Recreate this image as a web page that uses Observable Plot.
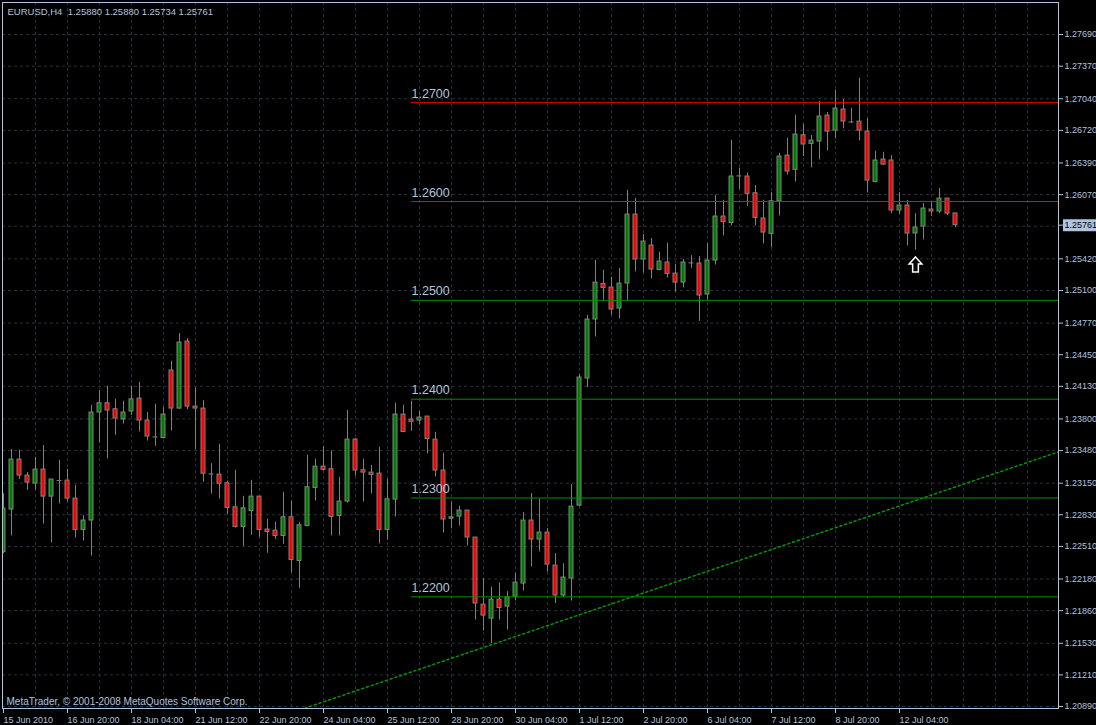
<!DOCTYPE html>
<html><head><meta charset="utf-8">
<script src="https://cdn.jsdelivr.net/npm/d3@7"></script>
<script src="https://cdn.jsdelivr.net/npm/@observablehq/plot@0.6"></script>
<style>
html,body{margin:0;padding:0;background:#000;overflow:hidden;}
#chart svg{display:block;}
</style></head><body><div id="chart"></div>
<script>
const titleText = "EURUSD,H4\u00a0 1.25880 1.25880 1.25734 1.25761";
const copyrightText = "MetaTrader, \u00a9 2001-2008 MetaQuotes Software Corp.";

const opens = [1.22454,1.22883,1.23389,1.23227,1.23146,1.23288,1.23014,1.23176,1.23176,1.22994,
1.22676,1.22772,1.23865,1.23959,1.23898,1.23794,1.23875,1.24006,1.23784,1.23618,
1.23607,1.24290,1.23905,1.24583,1.23925,1.23905,1.23243,1.23237,1.23149,1.22906,
1.22707,1.22869,1.23014,1.22681,1.22670,1.22616,1.22805,1.22363,1.22717,1.23102,
1.23318,1.23291,1.22818,1.22964,1.23591,1.23281,1.23257,1.23247,1.22676,1.22984,
1.23844,1.23794,1.23784,1.23824,1.23591,1.23278,1.22790,1.22812,1.22873,1.22600,
1.21921,1.21780,1.21972,1.21901,1.22002,1.22134,1.22772,1.22579,1.22650,1.22316,
1.22013,1.22185,1.22923,1.24209,1.24806,1.25166,1.25130,1.24917,1.25170,1.25868,
1.25413,1.25555,1.25308,1.25383,1.25271,1.25180,1.25379,1.25373,1.25059,1.25403,
1.25848,1.25783,1.26259,1.26253,1.26084,1.25828,1.25672,1.26003,1.26465,1.26320,
1.26671,1.26583,1.26607,1.26870,1.26718,1.26931,1.26805,1.26809,1.26708,1.26198,
1.26425,1.26415,1.25909,1.25959,1.25676,1.25747,1.25919,1.25899,1.26030,1.25880];

const highs = [1.23045,1.23490,1.23483,1.23257,1.23412,1.23531,1.23187,1.23382,1.23291,1.23129,
1.22822,1.23938,1.24090,1.24131,1.23999,1.23979,1.24131,1.24171,1.23865,1.23949,
1.23915,1.24384,1.24664,1.24613,1.24110,1.23986,1.23348,1.23544,1.23172,1.23281,
1.23017,1.23179,1.23014,1.22785,1.22754,1.23058,1.22970,1.22754,1.23432,1.23392,
1.23523,1.23476,1.23210,1.23885,1.23604,1.23392,1.23331,1.23513,1.23190,1.23959,
1.23938,1.23979,1.23878,1.23824,1.23665,1.23453,1.22957,1.22916,1.22873,1.22600,
1.22185,1.22097,1.22140,1.22053,1.22238,1.22853,1.23045,1.22987,1.22691,1.22438,
1.22336,1.23136,1.24252,1.24849,1.25406,1.25305,1.25234,1.25322,1.26114,1.26030,
1.25666,1.25625,1.25487,1.25578,1.25365,1.25413,1.25453,1.25443,1.25575,1.26064,
1.26013,1.26620,1.26337,1.26286,1.26162,1.26013,1.26094,1.26489,1.26640,1.26873,
1.26782,1.26668,1.27015,1.26901,1.27126,1.27032,1.26944,1.27248,1.26840,1.26509,
1.26499,1.26465,1.26091,1.26010,1.25878,1.25980,1.25993,1.26131,1.26030,1.25880];

const lows = [1.22438,1.22616,1.23187,1.23078,1.23078,1.22737,1.22545,1.22940,1.22960,1.22595,
1.22565,1.22413,1.23557,1.23395,1.23635,1.23749,1.23834,1.23668,1.23577,1.23523,
1.23597,1.23678,1.23895,1.23895,1.23486,1.23159,1.23041,1.22990,1.22835,1.22697,
1.22511,1.22623,1.22603,1.22441,1.22582,1.22532,1.22245,1.22086,1.22717,1.22970,
1.23274,1.22616,1.22616,1.22950,1.23220,1.22960,1.23041,1.22535,1.22572,1.22808,
1.23668,1.23675,1.23739,1.23446,1.23213,1.22646,1.22687,1.22717,1.22515,1.21766,
1.21654,1.21527,1.21766,1.21664,1.21958,1.22059,1.22302,1.22454,1.22251,1.21932,
1.21992,1.21958,1.22913,1.24118,1.24630,1.25001,1.24849,1.24812,1.25001,1.25287,
1.25277,1.25217,1.25298,1.25227,1.25085,1.25126,1.25325,1.24788,1.25001,1.25358,
1.25652,1.25753,1.26121,1.25952,1.25753,1.25571,1.25530,1.25854,1.26269,1.26198,
1.26455,1.26340,1.26421,1.26512,1.26633,1.26735,1.26789,1.26613,1.26087,1.26188,
1.26364,1.25878,1.25868,1.25551,1.25507,1.25611,1.25851,1.25878,1.25858,1.25734];

const closes = [1.22893,1.23389,1.23227,1.23156,1.23288,1.23014,1.23187,1.23176,1.22994,1.22676,
1.22772,1.23865,1.23959,1.23885,1.23804,1.23865,1.23999,1.23784,1.23622,1.23618,
1.23844,1.23905,1.24573,1.23925,1.23905,1.23245,1.23243,1.23144,1.22899,1.22707,
1.22896,1.23014,1.22676,1.22656,1.22616,1.22805,1.22373,1.22724,1.23109,1.23318,
1.23284,1.22808,1.22964,1.23591,1.23278,1.23257,1.23233,1.22676,1.22987,1.23844,
1.23668,1.23771,1.23814,1.23597,1.23278,1.22782,1.22805,1.22873,1.22600,1.21932,
1.21810,1.21972,1.21887,1.21995,1.22144,1.22772,1.22579,1.22650,1.22326,1.22013,
1.22195,1.22913,1.24219,1.24806,1.25180,1.25126,1.24907,1.25170,1.25868,1.25413,
1.25595,1.25312,1.25393,1.25267,1.25180,1.25383,1.25379,1.25049,1.25403,1.25848,
1.25793,1.26253,1.26259,1.26077,1.25834,1.25686,1.26003,1.26455,1.26303,1.26678,
1.26577,1.26617,1.26860,1.26708,1.26941,1.26809,1.26805,1.26718,1.26212,1.26415,
1.26374,1.25909,1.25959,1.25676,1.25737,1.25929,1.25899,1.26030,1.25878,1.25761];

const timeTickBars = [0, 8, 16, 24, 32, 40, 48, 56, 64, 72, 80, 88, 96, 104, 112];
const timeTickLabels = ["15 Jun 2010","16 Jun 20:00","18 Jun 04:00","21 Jun 12:00","22 Jun 20:00",
  "24 Jun 04:00","25 Jun 12:00","28 Jun 20:00","30 Jun 04:00","1 Jul 12:00","2 Jul 20:00",
  "6 Jul 04:00","7 Jul 12:00","8 Jul 20:00","12 Jul 04:00"];

const priceGridValues = [1.27690,1.27370,1.27040,1.26720,1.26390,1.26070,1.25750,1.25420,1.25100,
  1.24770,1.24450,1.24130,1.23800,1.23480,1.23150,1.22830,1.22510,1.22180,1.21860,1.21530,1.21210,1.20890];
const priceLabelValues = priceGridValues.filter(v => v !== 1.25750);
const lastPrice = 1.25761;

const redLevels = [1.2700, 1.2600];
const greenLevels = [1.2500, 1.2400, 1.2300, 1.2200];
const levelStartBar = 51;

const trendBars = [30, 132];
const trendPrices = [1.20662, 1.23470];

const arrowBar = 114;
const arrowPrice = 1.25363;

// ---- build
const fg = "#b0c4de", upColor = "#008000", downColor = "#ff0000", wickColor = "#808080", gridColor = "#283040";
const bars = opens.map((o, i) => ({i, open: o, high: highs[i], low: lows[i], close: closes[i]}));
const upBars = bars.filter(d => d.close > d.open);
const downBars = bars.filter(d => d.close < d.open);
const dojiBars = bars.filter(d => d.close === d.open);
const trend = trendBars.map((b, k) => ({bar: b, price: trendPrices[k]}));
const levels = redLevels.concat(greenLevels);
const xMin = -0.125, xMax = 131.875;
const yMin = 1.2087, yMax = 1.28014;

// hollow up-arrow symbol (MetaTrader arrow object)
const hollowUpArrow = {
  draw(context, size) {
    const r = Math.sqrt(size / Math.PI);
    context.moveTo(0, -r);
    context.lineTo(r * 0.85, -r * 0.05);
    context.lineTo(r * 0.38, -r * 0.05);
    context.lineTo(r * 0.38, r);
    context.lineTo(-r * 0.38, r);
    context.lineTo(-r * 0.38, -r * 0.05);
    context.lineTo(-r * 0.85, -r * 0.05);
    context.closePath();
  }
};
// box behind the current-price label on the price scale
const priceBoxSymbol = {
  draw(context) {
    context.rect(0, -6, 40, 12);
  }
};

const chart = Plot.plot({
  width: 1096, height: 725,
  marginLeft: 2, marginRight: 38, marginTop: 2, marginBottom: 17,
  style: {background: "#000", color: fg, fontFamily: "'Liberation Sans', Arial, sans-serif", fontSize: "9px", overflow: "visible"},
  x: {type: "linear", domain: [xMin, xMax]},
  y: {type: "linear", domain: [yMin, yMax]},
  marks: [
    Plot.gridX(d3.range(4, 132, 4), {stroke: gridColor, strokeOpacity: 1, strokeDasharray: "3,3"}),
    Plot.gridY(priceGridValues, {stroke: gridColor, strokeOpacity: 1, strokeDasharray: "3,3"}),
    Plot.ruleX(bars, {x: "i", y1: "low", y2: "high", stroke: wickColor, clip: true}),
    Plot.rect(upBars, {x1: d => d.i - 0.25, x2: d => d.i + 0.25, y1: "open", y2: "close", fill: upColor, stroke: wickColor, clip: true}),
    Plot.rect(downBars, {x1: d => d.i - 0.25, x2: d => d.i + 0.25, y1: "open", y2: "close", fill: downColor, stroke: wickColor, clip: true}),
    Plot.ruleY(dojiBars, {y: "open", x1: d => d.i - 0.3125, x2: d => d.i + 0.3125, stroke: wickColor, clip: true}),
    Plot.ruleY(redLevels, {y: d => d, x1: levelStartBar, x2: xMax, stroke: "#ff0000"}),
    Plot.ruleY(greenLevels, {y: d => d, x1: levelStartBar, x2: xMax, stroke: "#009000"}),
    Plot.line(trend, {x: "bar", y: "price", stroke: "#009a00", strokeDasharray: "2,3", clip: true}),
    Plot.text(levels, {x: levelStartBar, y: d => d, text: d => d.toFixed(4), textAnchor: "start", lineAnchor: "bottom", dy: -5, fontSize: 12.5, fill: fg}),
    Plot.dot([{bar: arrowBar, price: arrowPrice}], {x: "bar", y: "price", symbol: hollowUpArrow, r: 7.5, fill: "#000", stroke: "#ffffff", strokeWidth: 1.5}),
    Plot.axisX(timeTickBars, {anchor: "bottom", tickSize: 5, tickPadding: 3, textAnchor: "start", dx: 0, tickFormat: d => timeTickLabels[timeTickBars.indexOf(d)], label: null}),
    Plot.axisY(priceLabelValues, {anchor: "right", tickSize: 4, tickPadding: 2, tickFormat: d => d.toFixed(5), label: null}),
    Plot.axisY([lastPrice], {anchor: "right", tickSize: 4, tickFormat: () => "", label: null}),
    Plot.frame({stroke: fg}),
    Plot.text([titleText], {frameAnchor: "top-left", dx: 5, dy: 12, lineAnchor: "bottom", textAnchor: "start", fill: fg, fontSize: 9.5}),
    Plot.text([copyrightText], {frameAnchor: "bottom-left", dx: 4, dy: -4, lineAnchor: "bottom", textAnchor: "start", fill: fg, fontSize: 10}),
    Plot.dot([lastPrice], {x: xMax, y: d => d, symbol: priceBoxSymbol, r: 5, dx: 4.5, fill: fg, stroke: "none"}),
    Plot.text([lastPrice], {x: xMax, y: d => d, text: d => d.toFixed(5), dx: 6, textAnchor: "start", lineAnchor: "middle", fill: "#000"})
  ]
});
document.getElementById("chart").append(chart);
</script>
</body></html>
